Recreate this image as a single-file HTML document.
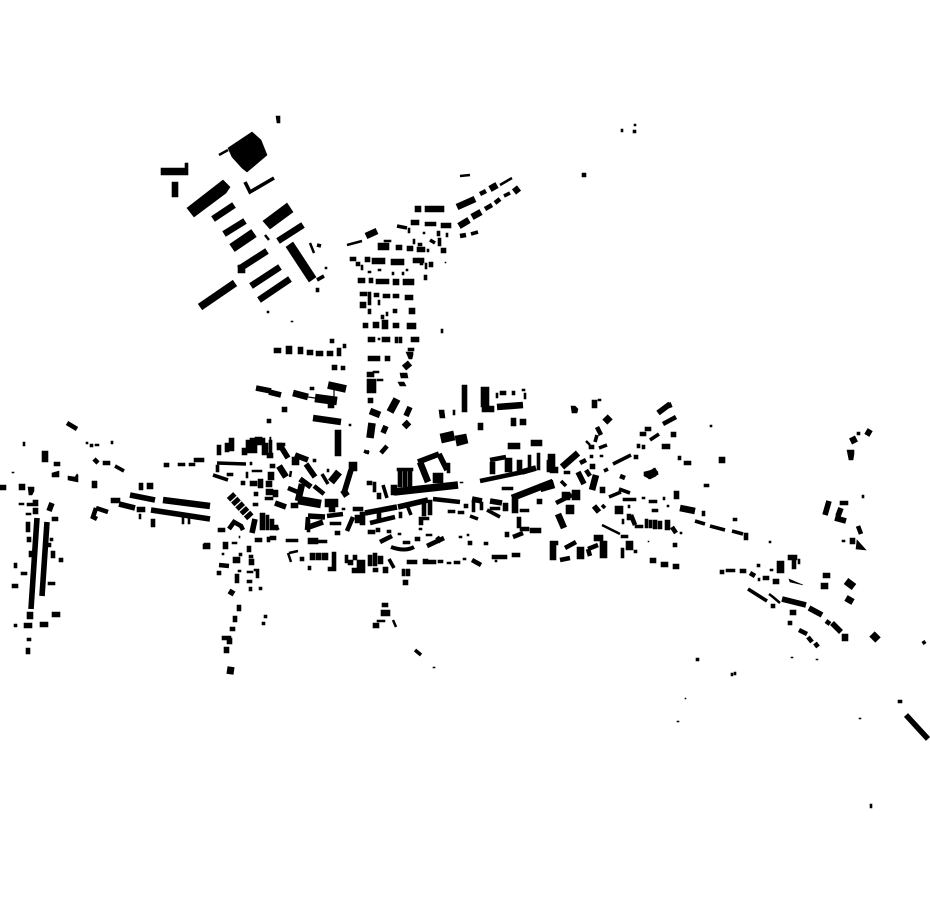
<!DOCTYPE html>
<html><head><meta charset="utf-8"><style>html,body{margin:0;padding:0;background:#fff}svg{display:block}</style></head><body>
<svg xmlns="http://www.w3.org/2000/svg" width="930" height="924" viewBox="0 0 930 924">
<g fill="#000" stroke="#000" stroke-width=".6">
<polygon points="228,148 252,132 261,140 267,155 247,172 242,168 232,157"/>
<polygon points="187,208 223,180 230,187 226,193 194,217"/>
<polygon points="263,221 287,203 293,212 270,229"/>
<polygon points="286,247 293,242 316,277 309,282"/>
<polygon points="857,540 866,550 856,549"/>
<polygon points="789,579 803,585 790,582"/>
<polygon points="644,472 652,470 654,468 658,472 656,476 650,479 644,476"/>
<path d="M161 168h27v7h-27zM185 163h3v6h-3zM172 182h6v15h-6zM238 265h7v8h-7zM276 116h4v7h-3zM267 311h2v2h-2zM325 267h2v2h-2zM316 288h3v4h-3z"/>
<path d="M415 206h6v6h-6zM425 206h19v6h-19zM411 220h8v5h-8zM425 222h11v4h-11zM441 223h10v5h-10zM408 228h2v5h-2zM423 232h2v2h-2zM437 231h3v5h-3zM446 233h2v4h-2zM384 240h7v2h-7zM378 243h11v7h-11zM396 245h6v5h-6zM407 246h6v5h-6zM413 239h2v5h-2zM418 243h4v3h-4zM417 247h8v5h-8zM427 249h2v3h-2zM438 238h3v8h-3zM441 248h5v5h-5zM350 257h6v4h-6zM356 262h4v4h-4zM361 265h2v5h-2zM365 257h5v5h-5zM372 258h13v6h-13zM391 259h13v6h-13zM413 258h11v5h-11zM420 262h3v3h-3zM425 263h2v6h-2zM429 262h4v5h-4zM445 262h1v1h-1zM368 271h3v2h-3zM378 269h3v2h-3zM392 272h2v3h-2zM402 272h2v3h-2zM406 269h2v2h-2zM424 275h3v5h-3zM358 278h7v5h-7zM369 278h4v5h-4zM376 279h13v5h-13zM393 279h6v6h-6zM403 279h11v6h-11zM360 292h7v4h-7zM368 292h3v13h-3zM374 293h5v4h-5zM383 294h7v4h-7zM393 294h6v4h-6zM405 295h8v5h-8zM360 302h6v6h-6zM378 300h2v5h-2zM368 309h3v5h-3zM386 312h2v4h-2zM393 309h4v4h-4zM409 308h6v6h-6zM381 315h3v4h-3zM363 323h5v5h-5zM373 322h6v6h-6zM382 320h6v9h-6zM393 323h6v5h-6zM407 323h9v6h-9zM441 329h2v4h-2zM368 337h7v5h-7zM378 338h2v2h-2zM382 337h8v5h-8zM395 337h3v6h-3zM399 337h3v6h-3zM411 337h8v5h-8zM408 348h6v3h-6z"/>
<path d="M330 339h4v4h-4zM343 344h3v4h-3zM274 348h7v5h-7zM286 346h6v8h-6zM298 347h5v7h-5zM307 350h6v5h-6zM316 351h7v5h-7zM327 351h6v5h-6zM337 348h4v8h-4zM332 365h5v5h-5zM341 366h4v4h-4zM406 352h7v3l-1 4h-3zM368 356h12v5h-12zM385 356h5v5h-5zM400 373h7l1 5h-7zM398 382h6l2 4h-6zM367 372h7v5h-7zM373 371h6v2h-6zM367 379h9v14h-9zM377 379h6v2h-6zM368 398h5v5h-5zM310 387h4v3h-4zM328 403h6v5h-6zM282 407h5v5h-5zM267 419h4v4h-4zM349 424h2v2h-2zM335 430h6v26h-6zM255 437h7v8h-7zM270 437h1v8h-1zM277 443h8v3h-8z"/>
<path d="M462 385h5v27h-5zM439 410h5l1 8h-5zM453 410h2v5h-2zM481 387h8v20h-8zM482 406h12v6h-12zM496 393h2v5h-2zM500 391h6v4h-6zM512 391h3v4h-3zM522 389h3v2h-3zM524 393h2v6h-2zM511 418h5v8h-5zM520 419h6v6h-6zM478 423h5v7h-5zM440 434l13-3 2 9-13 3zM455 436l11-2 2 9-11 3zM508 443h12v6h-12zM531 440h11v6h-11z"/>
<path d="M86 442h2v2h-2zM90 444h3v3h-3zM95 444h4v2h-4zM111 441h2v3h-2zM23 442h2v4h-2zM42 451h6v11h-6zM54 462h6v4h-6zM12 472h2v1h-2zM52 473l7-2v6h-7zM68 476l7 1 2-3 1 1v7l-10-2zM92 481h5v7h-5zM103 461h7v4h-7zM164 463h5v4h-5zM178 463h7v3h-7zM189 463h6v3h-6zM194 458h10v4h-10zM0 485h6v5h-6zM19 484h6v6h-6zM28 487h6v4l-2 4h-3zM139 483h4v7h-4zM147 483h6v6h-6zM111 498h9v5h-9zM137 507h8v5h-8zM139 514h2v5h-2zM151 519h4v8h-4zM182 516h2v8h-2zM188 516h2v8h-2zM204 543h6v5h-6zM19 503h5v2h-5zM27 503h11v3h-11zM33 500h5v5h-5zM33 508h5v6h-5zM26 513h5v2h-5zM52 517h6v4h-6zM26 522h4v10h-4zM27 537h4v5h-4zM29 551h6v6h-6zM50 538h3v3h-3zM47 543h4v4h-4zM51 551h4v7h-4zM59 558h4v4h-4zM14 563h3v5h-3zM21 572h6v3h-6zM12 584h6v4h-6zM48 582h7v3h-7zM27 612h6v7h-6zM52 612h8v5h-8zM24 623h8v5h-8zM40 622h8v5h-8zM14 624h3v3h-3zM27 638h4v3h-4zM26 648h4v6h-4z"/>
<path d="M217 445h4v10h-4zM225 443h4v9h-4zM229 438h5v13h-5zM242 448h5v7h-5zM246 440h4v13h-4zM250 438h15v5h-15zM250 443h7v10h-7zM262 443h6v12h-6zM269 440h3v14h-3zM267 453h6v5h-6zM277 443h5v7h-5zM292 457h7v8h-7zM313 459h3v3h-3zM327 469h2v3h-2zM349 462h8v9h-8zM216 465h3v7h-3zM250 462h2v3h-2zM227 473h6v3h-6zM252 470h10v2h-10zM246 472h2v6h-2zM241 481h4v4h-4zM250 481h7v5h-7zM258 479h5v9h-5zM270 464h5v4h-5zM268 472h6v8h-6zM266 481h6v6h-6zM266 489h7v6h-7zM273 490h5v7h-5zM265 497h8v3h-8zM254 492h4v4h-4zM291 503h7v5h-7zM325 499h13v8h-13zM329 505h6v7h-6zM342 508h3v2h-3zM253 503h5v3h-5zM260 513h5v17h-5zM266 515h3v15h-3zM270 519h4v11h-4zM274 525h4v5h-4zM218 528h7v4h-7zM239 536h1v2h-1zM255 538h7v4h-7zM267 537h3v5h-3zM270 536h6v4h-6zM286 539h12v3h-12zM203 544h7v5h-7zM223 542h5v7h-5zM232 542h5v2h-5zM222 553h2v2h-2zM247 546h4v6h-4zM239 553h3v3h-3zM249 555h4v3h-4zM233 557h7v6h-7zM249 559h5v6h-5zM217 571h4v4h-4zM238 570h3v2h-3zM235 574h4v9h-4zM247 571h6v2h-6zM256 570h3v8h-3zM254 569h5v2h-5zM247 580h5v3h-5zM249 587h3v4h-3zM259 587h3v3h-3zM237 605h4v6h-4zM233 616h4v6h-4zM230 627h5v4h-5zM222 636h9v4h-9zM227 638h5v6h-5zM224 647h5v6h-5zM264 615h3v3h-3zM262 622h3v3h-3zM335 531h5v4h-5zM353 507h10v4h-10zM355 515h8v8h-8zM307 520h3v12h-3zM330 522h11v3h-11zM308 538h10v6h-10zM315 540h12v3h-12zM310 553h5v7h-5zM316 553h5v7h-5zM322 553h6v7h-6zM332 552h4v18h-4zM328 567h8v4h-8zM308 566h3v4h-3zM300 557h4v4h-4zM345 555h3v8h-3zM348 560h5v5h-5zM352 568h13v5h-13zM353 555h4v5h-4zM357 560h8v8h-8zM368 555h4v11h-4zM373 553h4v13h-4zM378 556h5v8h-5zM373 568h5v4h-5zM383 567h5v6h-5z"/>
<path d="M367 481h5v4h-5zM373 482h3v10h-3zM377 493h4v6h-4zM391 485h6v10h-6zM397 468h16v3h-16zM398 471h4v16h-4zM403 471h4v16h-4zM408 471h4v16h-4zM433 473h3v10h-3zM436 473h7v10h-7zM447 463h3v10h-3zM460 482h3v1h-3zM502 487h11v3h-11zM490 462h5v12h-5zM505 458h7v14h-7zM517 460h5v13h-5zM528 455h3v14h-3zM537 453h3v17h-3zM547 460h8v10h-8zM422 502h4v14h-4zM428 500h4v15h-4zM399 512h3v6h-3zM360 512h5v13h-5zM377 512h4v8h-4zM472 502h3v10h-3zM480 502h3v8h-3zM490 507h10v3h-10zM464 504h4v4h-4zM448 510h7v3h-7zM458 511h6v3h-6zM503 503h5v8h-5zM512 498h6v15h-6zM520 509h9v3h-9zM537 499h5v5h-5zM419 517h4v8h-4zM423 517h6v3h-6zM419 528h3v2h-3zM387 530h4v3h-4zM398 533h3v2h-3zM403 541h7v3h-7zM415 537h5v4h-5zM426 534h6v2h-6zM459 536h3v2h-3zM467 534h2v2h-2zM468 541h4v4h-4zM484 542h4v3h-4zM517 517h4v11h-4zM520 527h9v4h-9zM530 528h11v5h-11zM505 532h4v5h-4zM407 560h10v4h-10zM423 559h5v5h-5zM428 560h8v4h-8zM438 560h5v3h-5zM447 562h4v2h-4zM454 561h6v3h-6zM463 558h3v2h-3zM492 555h4v4h-4zM495 555h12v4h-12zM512 553h8v4h-8zM495 560h2v2h-2zM368 530h7v4h-7zM376 528h4v4h-4zM402 569h3v7h-3zM406 569h4v7h-4zM403 580h5v5h-5zM382 603h6v4h-6zM381 610h9v6h-9zM377 620h8v2h-8zM373 623h6v5h-6z"/>
<path d="M571 406h4l3 3-1 4h-5zM592 400h5v8h-5zM598 399h3v2h-3zM645 427h6v4h-6zM640 432h6v4h-6zM671 432h5v5h-5zM637 444h3v4h-3zM642 445h3v4h-3zM662 444h8v5h-8zM710 425h2v2h-2zM589 445h5v4h-5zM634 455h4v4h-4zM678 456h3v4h-3zM684 461h7v4h-7zM719 457h6v6h-6zM548 454h7v6h-7zM547 461h4v11h-4zM550 467h8v6h-8zM564 471h6v3h-6zM590 464h5v5h-5zM590 455h3v3h-3zM600 455h3v2h-3zM600 487h5v6h-5zM562 492h8v8h-8zM572 490h8v10h-8zM566 505h8v9h-8zM615 506h8v8h-8zM628 505h2v3h-2zM642 497h3v2h-3zM649 500h8v3h-8zM652 509h6v3h-6zM663 497h2v3h-2zM667 505h2v2h-2zM674 491h5v8h-5zM702 511h3v5h-3zM733 518h4v3h-4zM744 533h4v7h-4zM627 514h4v6h-4zM622 519h2v5h-2zM635 525h8v3h-8zM645 519h3v9h-3zM649 520h3v8h-3zM653 520h4v9h-4zM658 521h4v8h-4zM665 520h5v10h-5zM680 532h2v2h-2zM621 535h7v3h-7zM550 541h8v4h-8zM550 545h6v15h-6zM577 547h7v12h-7zM594 535h9v6h-9zM600 541h7v17h-7zM621 548h3v10h-3zM626 541h7v9h-7zM634 550h3v3h-3zM648 541h1v1h-1zM673 543h4v4h-4zM650 558h6v5h-6zM661 562h7v5h-7zM673 564h6v5h-6zM704 484h5v3h-5zM623 498h13v3h-13z"/>
<path d="M857 432h3v3h-3zM847 450h7v4l-1 6h-4zM840 501h8v4h-8zM842 540h3v2h-3zM850 538h5v6h-5zM862 495h2v3h-2zM769 541h2v2h-2zM720 570h4v4h-4zM726 569h9v3h-9zM740 569h6v4h-6zM757 564h3v3h-3zM758 578h2v3h-2zM763 576h6v4h-6zM770 569h3v2h-3zM773 579h6v5h-6zM777 561h7v12h-7zM788 555h9v5h-9zM792 560h4v9h-4zM798 559h2v5h-2zM823 573h7v5h-7zM821 583h7v6h-7zM771 604h4v4h-4zM790 610h6v5h-6zM788 621h4v4h-4zM842 634h6v7h-6zM791 657h2v1h-2zM816 659h2v1h-2zM621 129h2v3h-2zM634 124h2v2h-2zM633 130h3v3h-3zM582 173h4v4h-4zM291 321h2v1h-2zM898 700h4v3h-4zM859 718h2v1h-2zM870 804h2v4h-2zM696 658h3v3h-3zM731 673h2v3h-2zM734 672h2v3h-2zM685 698h1v1h-1zM677 721h2v1h-2zM433 667h2v1h-2z"/>
</g>
<g fill="none" stroke="#000">
<path stroke-width="1.2" d="M334 388V397M308 397L315 398M270 437V445"/>
<path stroke-width="2.5" d="M219 155L228 150M265 235L269 240M310 243L314 253M460 176L470 175M500 185L512 178M347 245L362 241M602 525L620 534M586 441L590 445M393 620L396 627M769 594L773 597M773 597L780 603M289 553L298 551M288 553L291 562M291 471L290 477"/>
<path stroke-width="3.6" d="M245 182L250 192L274 178M317 245L321 246M317 280L324 276M397 226L407 228M430 240L435 243M471 234L478 232M504 196L510 193M115 466L124 471M213 475L228 480M276 526L278 530M365 452L369 452M364 451L369 453M383 485L387 498M407 505L411 515M470 516L478 519M487 510L500 517M389 559L394 568M599 448L607 445M595 442L597 435M613 464L631 455M650 440L659 434M609 497L621 492M619 489L630 493M561 481L566 486M602 505L605 508M604 471L608 469M695 521L705 524M710 526L725 530M732 531L743 534M748 589L767 601M923 641L925 644M415 650L421 655M217 463L246 464M322 474L328 484M439 454L442 460"/>
<path stroke-width="4.6" d="M288 488L300 493M314 486L324 494M229 529L234 522L241 526L243 530M219 565L229 566M460 236L466 235M480 194L486 191M495 203L500 199M485 209L492 205M67 423L77 429M94 459L98 463M308 517L307 530M327 516L343 514M353 517L347 531M370 523L395 517M380 542L392 536M433 499L460 502M490 460L506 457M427 546L444 538M437 537L441 542M472 560L481 565M513 537L523 533M597 427L601 435M580 463L586 460M620 476L625 478M672 527L676 533M560 560L570 558M565 548L576 542M588 549L598 545M588 549L590 556M750 573L755 576M858 526L861 534M826 621L830 624M799 630L807 634M808 637L812 642M815 643L818 647M96 508L93 517L97 519M108 512L96 508M381 453L387 446M556 503L572 495M663 424L676 417M586 470L590 476M631 515L635 525M480 481L523 472"/>
<path stroke-width="5.6" d="M130 495L155 500M119 504L135 508M151 510L210 519M52 503L49 511M47 522L42 596M37 518L31 609M280 445L288 458M295 455L308 460M306 464L315 477M300 479L311 487M351 470L344 493M275 503L286 507M255 519L252 533M229 591L234 594M308 516L325 517M306 528L323 522M365 513L397 507M398 507L428 500M472 499L482 501M490 501L502 503M522 472L536 468M406 416L410 407M386 426L383 433M594 506L599 512M578 472L584 484M668 403L670 408M658 413L670 404M829 501L825 515M841 508L838 516M835 518L846 521M832 623L841 632M809 608L822 615M782 599L806 605M906 715L928 739M256 388L271 391M269 392L281 395M418 462L439 454M439 454L447 470"/>
<path stroke-width="6.6" d="M213 219L234 205M224 234L245 221M239 269L267 251M251 286L280 267M259 300L290 279M278 241L303 225M457 207L475 199M472 217L481 212M490 189L497 185M514 192L519 188M459 226L469 220M366 236L377 231M163 500L210 506M343 490L347 496M279 466L286 477M293 393L308 397M313 418L341 422M370 411L380 415M404 427L409 422M404 368L410 363M420 462L428 482M512 498L553 482M497 407L523 405M846 598L853 602M852 437L855 443M866 431L871 434M298 501L302 484M562 467L578 453M596 475L592 490M558 514L564 528M680 508L695 511"/>
<path stroke-width="7.6" d="M200 307L235 283M328 385L346 389M372 423L370 438M397 399L390 412M331 482L339 472M846 581L854 587M605 417L610 422M227 670L234 671M647 476L657 471M872 634L878 640M394 492L458 485"/>
<path stroke-width="8.6" d="M315 398L337 401M298 500L321 504M540 488L554 484"/>
<path stroke-width="8.6" stroke-dasharray="5 1.3" d="M230 495L251 518"/>
<path stroke-width="9.5" d="M232 248L254 233"/>
<path stroke-width="4" d="M391 547Q405 552 414 547"/>
</g>
</svg>
</body></html>
